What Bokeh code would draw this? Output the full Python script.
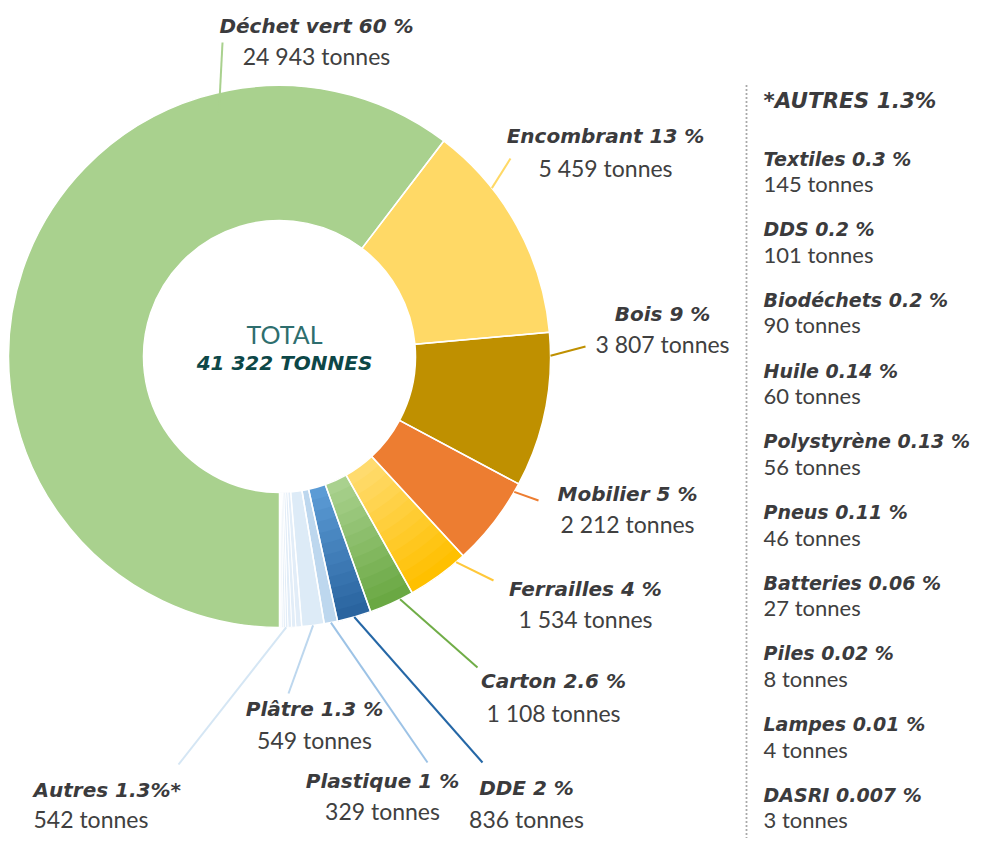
import math
from bokeh.plotting import figure
from bokeh.models import Range1d
from bokeh.core.properties import value
from bokeh.embed import file_html
from bokeh.resources import INLINE

# ---------------- data ----------------
categories = ["Déchet vert", "Encombrant", "Bois", "Mobilier", "Ferrailles",
              "Carton", "DDE", "Plastique", "Plâtre", "Autres"]
tonnes = [24943, 5459, 3807, 2212, 1534, 1108, 836, 329, 549, 542]
pct_labels = ["60 %", "13 %", "9 %", "5 %", "4 %", "2.6 %", "2 %", "1 %", "1.3 %", "1.3%*"]

autres_categories = ["Textiles", "DDS", "Biodéchets", "Huile", "Polystyrène",
                     "Pneus", "Batteries", "Piles", "Lampes", "DASRI"]
autres_tonnes = [145, 101, 90, 60, 56, 46, 27, 8, 4, 3]
autres_pct = ["0.3 %", "0.2 %", "0.2 %", "0.14 %", "0.13 %", "0.11 %",
              "0.06 %", "0.02 %", "0.01 %", "0.007 %"]
autres_title = "*AUTRES 1.3%"
total_title = "TOTAL"
total_tonnes = 41322


def fmt(v):
    return f"{v:,}".replace(",", " ") + " tonnes"


# ---------------- style / layout ----------------
W, H = 976, 838
CX, CY = 279, 356          # picture coords of the donut centre
R_OUT, R_IN = 271, 136

colors = ["#A9D18E", "#FFD966", "#BF9000", "#ED7D31", "#FFCF4A",
          "#8DC26A", "#3F7FBE", "#BDD7EE", "#DDEBF7", "#E2EDF8"]
gradients = {4: ("#FFDB6E", "#FFC000"), 5: ("#A9D18E", "#6AA843"), 6: ("#5B9BD5", "#2A649F")}
leader_colors = ["#A9D18E", "#FFD966", "#BF9000", "#ED7D31", "#FFC83A",
                 "#70AD47", "#2567A6", "#9DC3E6", "#BDD7EE", "#D5E6F4"]
# label layout: (x, title_y, tonnes_y, align, leader_x, leader_y, frac_in_slice, leader_radius)
label_layout = [
    (316, 25, 55, "center", 222, 42, 0.764, 251),
    (605, 135, 167, "center", 510, 158, 0.30, R_OUT),
    (662, 313, 343, "center", 585, 346, 0.15, R_OUT),
    (627, 493, 523, "center", 538, 500, 0.10, R_OUT),
    (585, 588, 618, "center", 493, 580, 0.15, R_OUT),
    (553, 680, 712, "center", 477, 667, 0.30, R_OUT),
    (526, 787, 818, "center", 482, 762, 0.50, R_OUT),
    (382, 780, 810, "center", 427, 762, 0.50, R_OUT),
    (314, 708, 739, "center", 288, 693, 0.50, R_OUT),
    (33, 789, 818, "left", 178, 764, 0.70, R_OUT),
]

BOLD_FONT = value("DejaVu Sans")
REG_FONT = value("Lato")
DARK = "#3B3B3D"
NUM = "#404040"


def Y(py):
    return H - py


def hex2rgb(h):
    h = h.lstrip("#")
    return tuple(int(h[i:i + 2], 16) for i in (0, 2, 4))


def lerp(c0, c1, t):
    a, b = hex2rgb(c0), hex2rgb(c1)
    return "#%02x%02x%02x" % tuple(round(a[i] + (b[i] - a[i]) * t) for i in range(3))


p = figure(width=W, height=H, x_range=Range1d(0, W), y_range=Range1d(0, H),
           output_backend="svg", toolbar_location=None, min_border=0,
           x_axis_location=None, y_axis_location=None, outline_line_color=None,
           background_fill_color="white", border_fill_color="white")
p.grid.visible = False

# ---------------- angles (clockwise from top, starting at 6 o'clock) ----------------
tot = sum(tonnes)
phi1, phi2 = [], []
cum = 0
for t in tonnes:
    phi1.append(180 + 360 * cum / tot)
    cum += t
    phi2.append(180 + 360 * cum / tot)


def th(phi):
    return math.radians(90 - phi)


main_idx = list(range(len(categories) - 1))
p.annular_wedge(x=[CX] * len(main_idx), y=[Y(CY)] * len(main_idx),
                inner_radius=R_IN, outer_radius=R_OUT,
                start_angle=[th(phi1[i]) for i in main_idx],
                end_angle=[th(phi2[i]) for i in main_idx],
                direction="clock", fill_color=[colors[i] for i in main_idx], line_color=None)

# gradient-like radial bands
NB = 12
for i, (c0, c1) in gradients.items():
    for k in range(NB):
        rin = R_IN + (R_OUT - R_IN) * k / NB
        p.annular_wedge(x=CX, y=Y(CY), inner_radius=rin, outer_radius=R_OUT,
                        start_angle=th(phi1[i]), end_angle=th(phi2[i]), direction="clock",
                        fill_color=lerp(c0, c1, k / (NB - 1)), line_color=None)

# Autres split into its sub-categories
ai = len(categories) - 1
sub_tot = sum(autres_tonnes)
s1, s2 = [], []
c = 0
for t in autres_tonnes:
    s1.append(phi1[ai] + (phi2[ai] - phi1[ai]) * c / sub_tot)
    c += t
    s2.append(phi1[ai] + (phi2[ai] - phi1[ai]) * c / sub_tot)
p.annular_wedge(x=[CX] * len(s1), y=[Y(CY)] * len(s1), inner_radius=R_IN, outer_radius=R_OUT,
                start_angle=[th(a) for a in s1], end_angle=[th(a) for a in s2],
                direction="clock", fill_color=colors[ai], line_color="white", line_width=1)

# white separators
p.annular_wedge(x=[CX] * len(main_idx), y=[Y(CY)] * len(main_idx),
                inner_radius=R_IN, outer_radius=R_OUT,
                start_angle=[th(phi1[i]) for i in main_idx],
                end_angle=[th(phi2[i]) for i in main_idx],
                direction="clock", fill_color=None, line_color="white", line_width=1.5)

# ---------------- leader lines ----------------
x0, y0, x1, y1 = [], [], [], []
for i, lay in enumerate(label_layout):
    lx, ly, frac, rr = lay[4], lay[5], lay[6], lay[7]
    phi = phi1[i] + (phi2[i] - phi1[i]) * frac
    px = CX + rr * math.sin(math.radians(phi))
    py = CY - rr * math.cos(math.radians(phi))
    x0.append(lx); y0.append(Y(ly)); x1.append(px); y1.append(Y(py))
p.segment(x0=x0, y0=y0, x1=x1, y1=y1, line_color=leader_colors, line_width=2)

# ---------------- labels ----------------
for align in ("center", "left"):
    ids = [i for i, l in enumerate(label_layout) if l[3] == align]
    p.text(x=[label_layout[i][0] for i in ids], y=[Y(label_layout[i][1]) for i in ids],
           text=[f"{categories[i]} {pct_labels[i]}" for i in ids],
           text_font=BOLD_FONT, text_font_style="bold italic", text_font_size="20px",
           text_color=DARK, text_align=align, text_baseline="middle")
    p.text(x=[label_layout[i][0] for i in ids], y=[Y(label_layout[i][2]) for i in ids],
           text=[fmt(tonnes[i]) for i in ids],
           text_font=REG_FONT, text_font_size="23px",
           text_color=NUM, text_align=align, text_baseline="middle")

# centre
p.text(x=[284], y=[Y(333)], text=[total_title], text_font=REG_FONT, text_font_size="25px",
       text_color="#2E6E6E", text_align="center", text_baseline="middle")
p.text(x=[284], y=[Y(362)], text=[fmt(total_tonnes).upper()], text_font=BOLD_FONT,
       text_font_style="bold italic", text_font_size="20px",
       text_color="#0D4747", text_align="center", text_baseline="middle")

# ---------------- right panel ----------------
PX = 763
p.segment(x0=[746], y0=[Y(85)], x1=[746], y1=[Y(H)], line_color="#555555",
          line_width=1.8, line_dash="1 3")
p.text(x=[PX], y=[Y(100)], text=[autres_title], text_font=BOLD_FONT,
       text_font_style="bold italic", text_font_size="21.5px", text_color=DARK,
       text_align="left", text_baseline="middle")
ty = [158 + k * 70.7 for k in range(len(autres_categories))]
p.text(x=[PX] * len(ty), y=[Y(t) for t in ty],
       text=[f"{n} {q}" for n, q in zip(autres_categories, autres_pct)],
       text_font=BOLD_FONT, text_font_style="bold italic", text_font_size="19px",
       text_color=DARK, text_align="left", text_baseline="middle")
p.text(x=[PX] * len(ty), y=[Y(t + 25) for t in ty],
       text=[fmt(v) for v in autres_tonnes],
       text_font=REG_FONT, text_font_size="22px", text_color=NUM,
       text_align="left", text_baseline="middle")

open("out.html", "w").write(file_html(p, INLINE))
